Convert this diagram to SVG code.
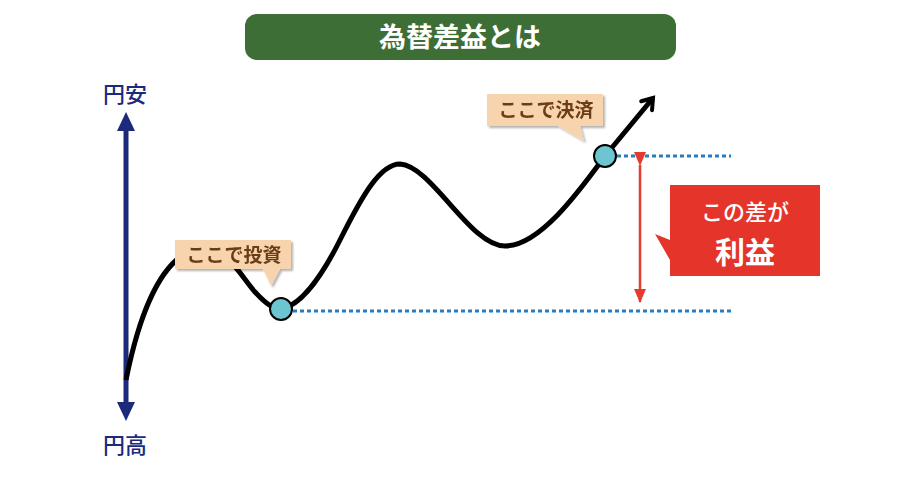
<svg xmlns="http://www.w3.org/2000/svg" width="920" height="478" viewBox="0 0 920 478">
<defs>
<style>
.jp{font-family:"Noto Sans CJK JP","Noto Sans",sans-serif;}
.axis{fill:#1b2a7a;font-size:22px;font-weight:500;}
.dot{stroke:#2b7bc0;stroke-width:3;stroke-dasharray:4 3;fill:none;}
.pt{fill:#6cc5d1;stroke:#000;stroke-width:2;}
.tag{fill:#f8d4ae;}
.tagt{fill:#6b3d12;font-size:19px;font-weight:700;}
</style>
<marker id="chev" viewBox="0 0 20 20" refX="14" refY="10" markerWidth="20" markerHeight="20" markerUnits="userSpaceOnUse" orient="auto">
<path d="M4,3 L14,10 L4,17" fill="none" stroke="#000" stroke-width="4" stroke-linejoin="miter" stroke-linecap="round"/>
</marker>
<marker id="redTri" viewBox="0 0 14 14" refX="13" refY="7" markerWidth="14" markerHeight="14" markerUnits="userSpaceOnUse" orient="auto">
<path d="M0,1 L14,7 L0,13 Z" fill="#e53a2e"/>
</marker>
<filter id="sh" x="-10%" y="-10%" width="130%" height="140%">
<feDropShadow dx="2" dy="2" stdDeviation="1.2" flood-color="#000" flood-opacity="0.3"/>
</filter>
</defs>

<g id="title">
<rect x="245" y="14" width="431" height="46" rx="12" fill="#3d6e36"/>
<text class="jp" x="460" y="47" text-anchor="middle" font-size="27" font-weight="700" fill="#fff">為替差益とは</text>
</g>

<g id="axis">
<line x1="126" y1="131" x2="126" y2="402" stroke="#1b2a7a" stroke-width="5"/>
<path d="M126,112 L135,131 L117,131 Z" fill="#1b2a7a"/>
<path d="M126,421 L135,402 L117,402 Z" fill="#1b2a7a"/>
<text class="jp axis" x="125" y="102" text-anchor="middle">円安</text>
<text class="jp axis" x="125" y="453" text-anchor="middle">円高</text>
</g>

<g id="connectors">
<line class="dot" x1="293" y1="311" x2="731" y2="311"/>
<line class="dot" x1="617" y1="156" x2="731" y2="156"/>
<line x1="640" y1="165" x2="640" y2="302" stroke="#e53a2e" stroke-width="2.5" marker-start="url(#redTri)" marker-end="url(#redTri)"/>
<path id="curve" d="M126,380 C138,320 160,255 200,248 C225,244 240,275 255,292 C265,303 273,310 284,308 C300,304 320,280 340,240 C362,196 380,164 400,164 C432,166 470,246 505,246 C540,246 580,190 605,156 L653,98" fill="none" stroke="#000" stroke-width="5" stroke-linejoin="round" marker-end="url(#chev)"/>
</g>

<g id="point-invest">
<circle class="pt" cx="281" cy="309" r="11"/>
</g>
<g id="point-settle">
<circle class="pt" cx="605" cy="156" r="11"/>
</g>

<g id="tag-invest" filter="url(#sh)">
<path class="tag" d="M175,240 H291 V269 H280 L271,286 L263,269 H175 Z"/>
<text class="jp tagt" x="234" y="262" text-anchor="middle">ここで投資</text>
</g>

<g id="tag-settle" filter="url(#sh)">
<path class="tag" d="M487,94 H603 V126 H580 L584,141 L558,126 H487 Z"/>
<text class="jp tagt" x="546" y="117" text-anchor="middle">ここで決済</text>
</g>

<g id="profit">
<path d="M670,185 H820 V276 H670 V260 L655,234 L670,240 Z" fill="#e5352a"/>
<text class="jp" x="745" y="220" text-anchor="middle" font-size="22" font-weight="500" fill="#fff">この差が</text>
<text class="jp" x="745" y="263" text-anchor="middle" font-size="30" font-weight="700" fill="#fff">利益</text>
</g>
</svg>
